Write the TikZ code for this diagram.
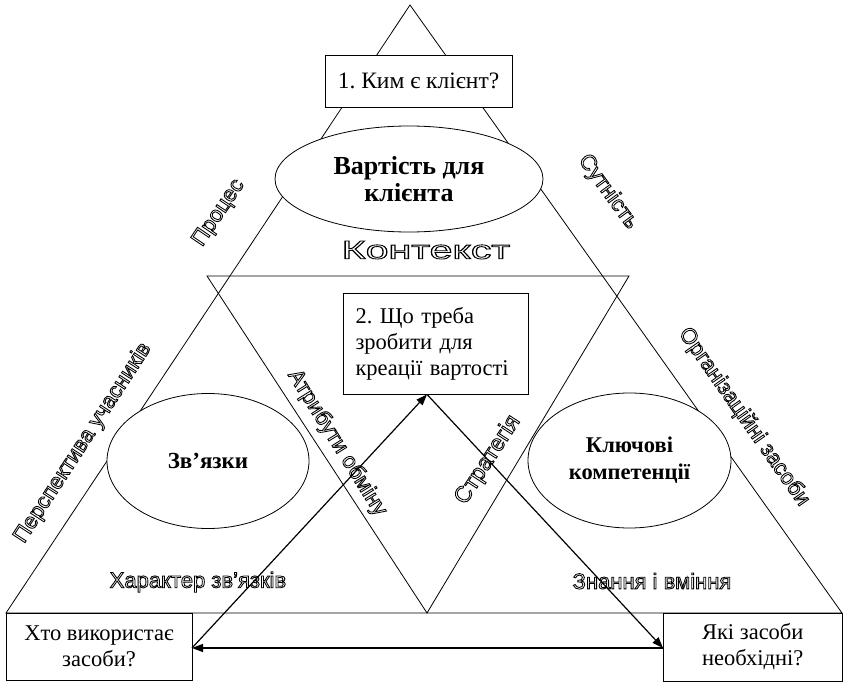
\documentclass[tikz,border=0pt]{standalone}
\usepackage{fontspec}
\setmainfont{Liberation Serif}
\setsansfont{Liberation Sans}
\usetikzlibrary{arrows.meta,shapes.geometric}
\frenchspacing

% outlined (hollow) lettering: stroke the glyphs instead of filling them
\newcommand\hollow[1]{\special{pdf:literal direct 1 Tr 0.85 w}#1\special{pdf:literal direct 0 Tr}}

\tikzset{
  edge/.style={draw, line width=0.8pt, line join=miter},
  qbox/.style={draw, fill=white, line width=0.8pt, inner sep=0pt, align=center,
    font=\fontsize{22.5}{26}\selectfont},
  oval/.style={ellipse, draw, fill=white, line width=0.8pt, inner sep=0pt, align=center,
    font=\bfseries\fontsize{26}{27}\selectfont},
  flow/.style={line width=1.2pt, -{Triangle[length=11pt,width=8pt]}},
  lab/.style={inner sep=0pt, font=\sffamily\fontsize{22}{24}\selectfont},
}

\begin{document}
\begin{tikzpicture}[x=1pt,y=-1pt]
\useasboundingbox (0,0) rectangle (843,682);

% outer triangle and the inverted inner triangle
\coordinate (A) at (410,5);
\coordinate (B) at (6,613);
\coordinate (C) at (842,613);
\coordinate (D) at (207,276);
\coordinate (E) at (629,276);
\coordinate (F) at (427,613);
\draw[edge] (A) -- (B) -- (C) -- cycle;
\draw[edge] (D) -- (E) -- (F) -- cycle;

% central notions
\node[oval, minimum width=268, minimum height=106] (value) at (409,179) {Вартість для\\клієнта};
\node[oval, minimum width=202, minimum height=135, font=\bfseries\fontsize{23}{26}\selectfont] (links) at (208,461) {Зв’язки};
\node[oval, minimum width=203, minimum height=135, font=\bfseries\fontsize{22.5}{27}\selectfont] (comp) at (629.5,460.5) {Ключові\\компетенції};

% questions
\node[qbox, minimum width=187, minimum height=52, font=\fontsize{23.5}{26}\selectfont] (q1) at (418.5,81) {1. Ким є клієнт?};
\node[qbox, minimum width=185, minimum height=101, text width=160pt, align=left, inner xsep=12pt] (q2) at (435.5,343.5) {2. Що треба\\зробити для\\креації вартості};
\node[qbox, minimum width=186, minimum height=67] (qL) at (99,646.5) {Хто використає\\засоби?};
\node[qbox, minimum width=179.5, minimum height=68] (qR) at (752.75,647) {Які засоби\\необхідні?};

% cycle of questions
\coordinate (q2tip) at (427,394.4);
\coordinate (qLin) at (192,648);
\coordinate (qRin) at (663,648);
\draw[flow] (qLin) -- (q2tip);
\draw[flow] (q2tip) -- (qRin);
\draw[flow] (qRin) -- (qLin);

% side labels
\node[lab, font=\sffamily\fontsize{26}{28}\selectfont] (ctx) at (426,250) {\scalebox{1.58}[1]{\hollow{Контекст}}};
\node[lab, rotate=56] (proc) at (219,213) {\hollow{Процес}};
\node[lab, rotate=-54] (ess) at (608,192) {\hollow{Сутність}};
\node[lab, rotate=57] (persp) at (83,443) {\hollow{Перспектива учасників}};
\node[lab, rotate=-58] (attr) at (337,443) {\hollow{Атрибути обміну}};
\node[lab, rotate=57, font=\sffamily\fontsize{23}{24}\selectfont] (strat) at (488,460) {\hollow{Стратегія}};
\node[lab, rotate=-55] (org) at (744,417) {\hollow{Організаційні засоби}};
\node[lab] (kind) at (198,582) {\hollow{Характер зв'язків}};
\node[lab] (know) at (652,581) {\hollow{Знання і вміння}};
\end{tikzpicture}
\end{document}
